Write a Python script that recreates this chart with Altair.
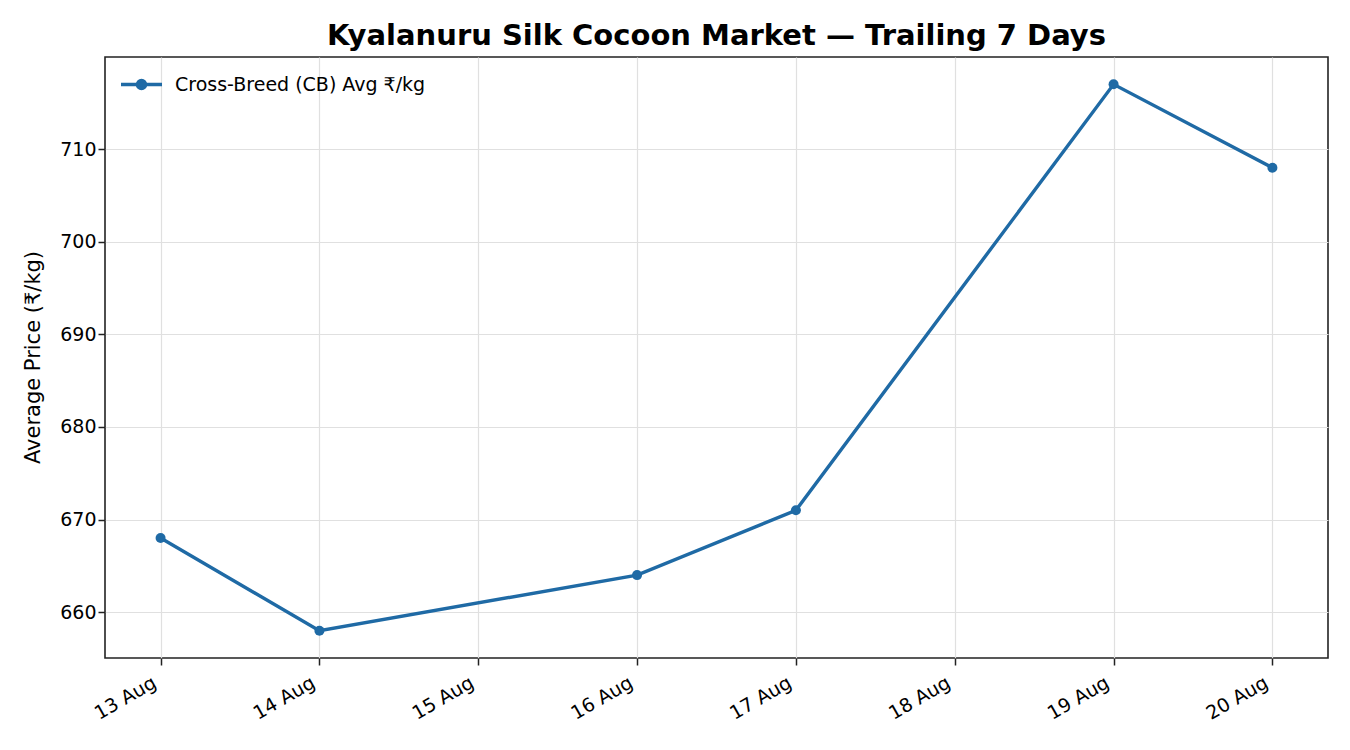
import altair as alt
import pandas as pd

dates = ["2024-08-13", "2024-08-14", "2024-08-16", "2024-08-17", "2024-08-19", "2024-08-20"]
prices = [668, 658, 664, 671, 717, 708]
series_name = "Cross-Breed (CB) Avg ₹/kg"
tick_days = [13, 14, 15, 16, 17, 18, 19, 20]
y_ticks = [660, 670, 680, 690, 700, 710]

df = pd.DataFrame({"date": dates, "price": prices, "series": [series_name] * len(dates)})

color = "#1f6aa5"
font = "DejaVu Sans"

legend_path = "M-1,0L1,0M-0.2,0a0.2,0.2 0 1,0 0.4,0a0.2,0.2 0 1,0 -0.4,0"

x_enc = alt.X(
    "date:T",
    scale=alt.Scale(domain=[alt.DateTime(year=2024, month=8, date=12, hours=15, minutes=36, utc=True),
                            alt.DateTime(year=2024, month=8, date=20, hours=8, minutes=24, utc=True)],
                    type="utc"),
    axis=alt.Axis(
        values=[alt.DateTime(year=2024, month=8, date=d, utc=True) for d in tick_days],
        labelExpr="utcFormat(datum.value, '%d %b')", labelAngle=-30, labelAlign="right",
        labelBaseline="top", labelPadding=8, labelOffset=-11, title=None,
    ),
)
y_enc = alt.Y(
    "price:Q",
    scale=alt.Scale(domain=[655.05, 719.95], nice=False, zero=False),
    axis=alt.Axis(values=y_ticks, title="Average Price (₹/kg)", titleX=-72, titleY=300,
                  titleBaseline="middle", titleAngle=-90, titleAlign="center"),
)

line = alt.Chart(df).mark_line(strokeWidth=3.4, color=color, point=alt.OverlayMarkDef(size=100, filled=True, color=color, opacity=1)).encode(
    x=x_enc,
    y=y_enc,
    color=alt.Color("series:N", scale=alt.Scale(range=[color]),
                    legend=alt.Legend(title=None, orient="none", legendX=14, legendY=5,
                                      symbolType=legend_path, symbolSize=1681,
                                      symbolStrokeWidth=3.4, symbolStrokeColor=color,
                                      symbolFillColor=color, labelFontSize=19,
                                      labelFont=font, labelColor="#000", padding=0,
                                      labelOffset=11, labelLimit=0)),
)

chart = line.properties(
    width=1223, height=601,
    background="white",
    title=alt.TitleParams("Kyalanuru Silk Cocoon Market — Trailing 7 Days", fontSize=29,
                          font=font, fontWeight="bold", color="#000", offset=6,
                          anchor="middle"),
    autosize=alt.AutoSizeParams(type="none"),
    padding={"left": 97, "top": 49, "right": 14, "bottom": 84},
).configure_view(
    stroke="#222222", strokeWidth=1.6
).configure_axis(
    labelFont=font, titleFont=font, labelFontSize=19, titleFontSize=21,
    labelColor="#000", titleColor="#000", titleFontWeight="normal",
    grid=True, gridColor="#e0e0e0", gridWidth=1.2,
    domain=False, tickColor="#222222", tickSize=7, tickWidth=1.5,
)

chart.save("out.html", embed_options={"renderer": "svg", "actions": False})
